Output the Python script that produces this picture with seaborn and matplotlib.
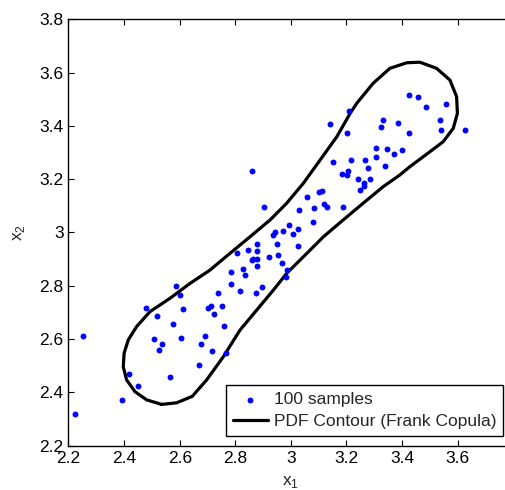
import matplotlib
matplotlib.use("Agg")
import matplotlib.pyplot as plt
import seaborn as sns
import pandas as pd

sns.set_style("ticks")
plt.rcParams['font.family'] = ['Liberation Sans', 'DejaVu Sans']
plt.rcParams['mathtext.fontset'] = 'custom'
plt.rcParams['mathtext.rm'] = 'Liberation Sans'

# samples
sample_x = [2.251, 2.224, 2.394, 2.451, 2.419, 2.478, 2.517, 2.507, 2.537, 2.527,
            2.564, 2.577, 2.587, 2.601, 2.611, 2.604, 2.668, 2.678, 2.690, 2.717,
            2.701, 2.712, 2.723, 2.739, 2.751, 2.859, 3.153, 2.903, 3.057, 3.102,
            3.111, 3.119, 3.129, 3.083, 3.029, 3.080, 2.993, 2.973, 3.026, 2.943,
            2.935, 3.006, 2.877, 2.951, 3.024, 2.807, 2.845, 2.877, 2.865, 2.879,
            2.860, 2.920, 2.954, 2.877, 2.967, 2.987, 2.982, 2.827, 2.835, 2.785,
            2.783, 2.817, 2.897, 2.874, 3.426, 3.456, 3.486, 3.558, 3.535, 3.540,
            3.625, 3.210, 3.140, 3.201, 3.333, 3.323, 3.386, 3.425, 3.306, 3.346,
            3.400, 3.372, 3.306, 3.340, 3.216, 3.267, 3.276, 3.185, 3.203, 3.206,
            3.243, 3.285, 3.263, 3.264, 3.250, 3.189, 2.767, 2.760]
sample_y = [2.612, 2.320, 2.373, 2.424, 2.469, 2.716, 2.688, 2.600, 2.580, 2.559,
            2.459, 2.657, 2.799, 2.764, 2.712, 2.605, 2.504, 2.580, 2.612, 2.557,
            2.716, 2.725, 2.694, 2.774, 2.725, 3.232, 3.266, 3.097, 3.134, 3.152,
            3.156, 3.107, 3.097, 3.093, 3.086, 3.038, 3.028, 3.007, 3.013, 3.003,
            2.991, 2.993, 2.958, 2.958, 2.950, 2.924, 2.934, 2.932, 2.900, 2.900,
            2.897, 2.909, 2.914, 2.874, 2.887, 2.859, 2.834, 2.864, 2.842, 2.851,
            2.806, 2.782, 2.795, 2.774, 3.516, 3.510, 3.472, 3.482, 3.423, 3.385,
            3.385, 3.455, 3.406, 3.372, 3.423, 3.396, 3.410, 3.374, 3.316, 3.313,
            3.308, 3.296, 3.285, 3.250, 3.273, 3.273, 3.242, 3.218, 3.216, 3.230,
            3.201, 3.201, 3.185, 3.176, 3.160, 3.097, 2.547, 2.650]

# contour (closed curve)
contour_x = [2.535, 2.589, 2.645, 2.697, 2.757, 2.817, 2.877, 2.937, 2.985, 3.045,
             3.117, 3.188, 3.260, 3.332, 3.392, 3.428, 3.500, 3.548, 3.584, 3.599,
             3.596, 3.572, 3.524, 3.464, 3.417, 3.356, 3.296, 3.237, 3.213, 3.165,
             3.105, 3.045, 2.985, 2.925, 2.853, 2.781, 2.709, 2.637, 2.565, 2.493,
             2.445, 2.415, 2.400, 2.397, 2.409, 2.439, 2.481, 2.535]
contour_y = [2.355, 2.361, 2.385, 2.447, 2.534, 2.634, 2.709, 2.784, 2.847, 2.909,
             2.984, 3.047, 3.110, 3.172, 3.216, 3.247, 3.303, 3.341, 3.391, 3.447,
             3.510, 3.572, 3.616, 3.639, 3.637, 3.616, 3.560, 3.485, 3.447, 3.359,
             3.272, 3.185, 3.110, 3.047, 2.984, 2.922, 2.859, 2.809, 2.753, 2.703,
             2.647, 2.597, 2.547, 2.496, 2.447, 2.403, 2.372, 2.355]

x_ticks = [2.2, 2.4, 2.6, 2.8, 3.0, 3.2, 3.4, 3.6]
x_tick_labels = ["2.2", "2.4", "2.6", "2.8", "3", "3.2", "3.4", "3.6"]
y_ticks = [2.2, 2.4, 2.6, 2.8, 3.0, 3.2, 3.4, 3.6, 3.8]
y_tick_labels = ["2.2", "2.4", "2.6", "2.8", "3", "3.2", "3.4", "3.6", "3.8"]

samples = pd.DataFrame({"x1": sample_x, "x2": sample_y})
contour = pd.DataFrame({"x1": contour_x, "x2": contour_y})

fig = plt.figure(figsize=(5.06, 4.90), dpi=100)
ax = fig.add_axes([68.5 / 506, (490 - 445.7) / 490, 444.8 / 506, 426.4 / 490])

sns.scatterplot(data=samples, x="x1", y="x2", ax=ax, color=(0, 0, 1), s=18,
                marker='o', linewidth=0, label="100 samples", zorder=3)
sns.lineplot(data=contour, x="x1", y="x2", ax=ax, sort=False, estimator=None,
             color="black", linewidth=2.3, label="PDF Contour (Frank Copula)",
             zorder=2, solid_joinstyle='round', solid_capstyle='round')

ax.set_xlim(2.2, 3.8)
ax.set_ylim(2.2, 3.8)
ax.set_xticks(x_ticks)
ax.set_xticklabels(x_tick_labels)
ax.set_yticks(y_ticks)
ax.set_yticklabels(y_tick_labels)
ax.tick_params(direction='in', top=True, right=True, length=4, width=0.8,
               labelsize=12.5, colors='black', pad=3.5)
for sp in ax.spines.values():
    sp.set_color('black')
    sp.set_linewidth(1.0)

ax.set_xlabel("x$_1$", fontsize=12.5, labelpad=6)
ax.set_ylabel("x$_2$", fontsize=12.5, labelpad=9)

leg = ax.legend(loc='lower right', bbox_to_anchor=(0.9769, 0.0227),
                fontsize=12.5, frameon=True, fancybox=False, edgecolor='black',
                framealpha=1, borderpad=0.4, handlelength=2.0, handletextpad=0.35,
                labelspacing=0.38, borderaxespad=0)
leg.get_frame().set_linewidth(1.0)

fig.savefig("out.png", dpi=100)
